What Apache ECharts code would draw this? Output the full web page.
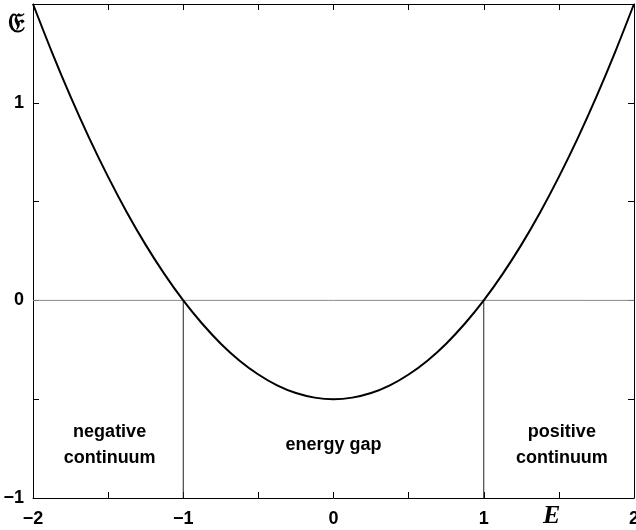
<!DOCTYPE html>
<html>
<head>
<meta charset="utf-8">
<script src="https://cdn.jsdelivr.net/npm/echarts@6/dist/echarts.min.js"></script>
<style>
  html, body { margin: 0; padding: 0; background: #fff; }
  #chart { width: 636px; height: 530px; }
</style>
</head>
<body>
<div id="chart"></div>
<script>
// Dispersion curve sampled along the energy axis
const energyE = [-2, -1.875, -1.75, -1.625, -1.5, -1.375, -1.25, -1.125, -1, -0.875, -0.75, -0.625, -0.5, -0.375, -0.25, -0.125,
  0, 0.125, 0.25, 0.375, 0.5, 0.625, 0.75, 0.875, 1, 1.125, 1.25, 1.375, 1.5, 1.625, 1.75, 1.875, 2];
const curveValues = [1.5, 1.258, 1.031, 0.820, 0.625, 0.445, 0.281, 0.133, 0, -0.117, -0.219, -0.305, -0.375, -0.430, -0.469, -0.492,
  -0.5, -0.492, -0.469, -0.430, -0.375, -0.305, -0.219, -0.117, 0, 0.133, 0.281, 0.445, 0.625, 0.820, 1.031, 1.258, 1.5];

// Band edges and region captions
const bandEdges = [-1, 1];
const regionNames = ['negative\ncontinuum', 'energy gap', 'positive\ncontinuum'];
const regionCentres = [-1.49, 0, 1.52];
const regionLevel = -0.73;

// Axis ranges and tick step
const xRange = [-2, 2];
const yRange = [-1, 1.5];
const tickStep = 0.5;

const fmt = v => (Number.isInteger(v) ? String(v).replace('-', '\u2212') : '');

const tickFont = { fontFamily: 'Liberation Sans, Arial, sans-serif', fontWeight: 'bold', fontSize: 18, color: '#000' };

const chart = echarts.init(document.getElementById('chart'), null, { renderer: 'canvas' });

const baseAxis = {
  type: 'value',
  interval: tickStep,
  axisLine: { show: true, onZero: false, lineStyle: { color: '#000', width: 1 } },
  axisTick: { show: true, inside: true, length: 6, lineStyle: { color: '#000', width: 1 } },
  splitLine: { show: false }
};

const option = {
  animation: false,
  backgroundColor: '#fff',
  grid: { left: 33, right: 2, top: 4, bottom: 32, containLabel: false, outerBoundsMode: 'none' },
  xAxis: [
    Object.assign({}, baseAxis, {
      min: xRange[0], max: xRange[1], position: 'bottom',
      axisLabel: Object.assign({ margin: 12, formatter: fmt, showMinLabel: true, showMaxLabel: true }, tickFont)
    }),
    Object.assign({}, baseAxis, {
      min: xRange[0], max: xRange[1], position: 'top', axisLabel: { show: false }
    })
  ],
  yAxis: [
    Object.assign({}, baseAxis, {
      min: yRange[0], max: yRange[1], position: 'left',
      axisLabel: Object.assign({ margin: 9, formatter: fmt }, tickFont)
    }),
    Object.assign({}, baseAxis, {
      min: yRange[0], max: yRange[1], position: 'right', axisLabel: { show: false }
    })
  ],
  series: [
    {
      type: 'line',
      data: [[xRange[0], 0], [xRange[1], 0]],
      symbol: 'none',
      lineStyle: { color: '#8a8a8a', width: 1 },
      silent: true,
      z: 1
    },
    ...bandEdges.map(e => ({
      type: 'line',
      data: [[e, 0], [e, yRange[0]]],
      symbol: 'none',
      lineStyle: { color: '#222', width: 1 },
      silent: true,
      z: 1
    })),
    {
      type: 'line',
      data: energyE.map((e, i) => [e, curveValues[i]]),
      smooth: 0.3,
      symbol: 'none',
      lineStyle: { color: '#000', width: 2 },
      z: 3
    },
    {
      type: 'scatter',
      data: regionCentres.map((x, i) => ({ value: [x, regionLevel], name: regionNames[i] })),
      symbolSize: 0,
      itemStyle: { opacity: 1 },
      label: {
        show: true,
        position: 'inside',
        formatter: p => p.name,
        fontFamily: 'Liberation Sans, Arial, sans-serif',
        fontWeight: 'bold',
        fontSize: 18,
        lineHeight: 26,
        align: 'center',
        verticalAlign: 'middle',
        color: '#000',
        opacity: 1
      },
      silent: true,
      z: 4
    }
  ],
  graphic: [
    {
      type: 'text',
      left: 8, top: 11,
      style: { text: '\u{1D508}', font: 'bold 27px "DejaVu Serif", serif', fill: '#000' }
    },
    {
      type: 'text',
      left: 543, top: 503,
      style: { text: 'E', font: 'italic bold 26px "Liberation Serif", "Times New Roman", serif', fill: '#000' }
    }
  ]
};

chart.setOption(option);
</script>
</body>
</html>
